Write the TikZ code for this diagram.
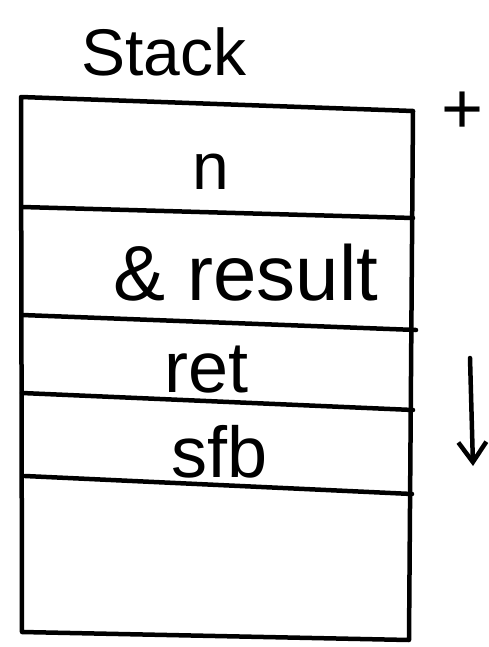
\documentclass[tikz,border=0pt]{standalone}
\usepackage{fontspec}
\setmainfont{Liberation Sans}
\usetikzlibrary{arrows.meta}
\begin{document}
\begin{tikzpicture}[x=1pt,y=-1pt,
  ink/.style={line width=4.5pt,line cap=round,line join=round},
  lbl/.style={inner sep=0pt,font=\fontsize{66}{66}\selectfont}]
\useasboundingbox (0,0) rectangle (489,647);
% frame corners
\coordinate (tl) at (21,97);
\coordinate (tr) at (413,111);
\coordinate (br) at (409,640);
\coordinate (bl) at (22,632);
\draw[ink] (tl) -- (tr) -- (br) -- (bl) -- cycle;
% slot dividers
\coordinate (d1l) at (22,207);  \coordinate (d1r) at (413,218);
\coordinate (d2l) at (22,315);  \coordinate (d2r) at (416,330);
\coordinate (d3l) at (22,393);  \coordinate (d3r) at (413,410);
\coordinate (d4l) at (25,476);  \coordinate (d4r) at (412,494);
\draw[ink] (d1l) -- (d1r);
\draw[ink] (d2l) -- (d2r);
\draw[ink] (d3l) -- (d3r);
\draw[ink] (d4l) -- (d4r);
% labels
\node[lbl] (title) at (164,52) {Stack};
\node[lbl] (n) at (211,172) {n};
\node[lbl,font=\fontsize{78}{78}\selectfont] (res) at (246,273) {\& result};
\node[lbl,font=\fontsize{72}{72}\selectfont] (ret) at (207,370) {ret};
\node[lbl,font=\fontsize{72}{72}\selectfont] (sfb) at (220,452) {sfb};
\node[lbl,font=\fontsize{72}{72}\selectfont] (plus) at (463,113) {+};
% growth direction
\coordinate (a0) at (470,358);
\coordinate (a1) at (473,466);
\draw[ink,-{Straight Barb[length=20pt,width=28pt,line width=4.5pt]}] (a0) -- (a1);
\end{tikzpicture}
\end{document}
